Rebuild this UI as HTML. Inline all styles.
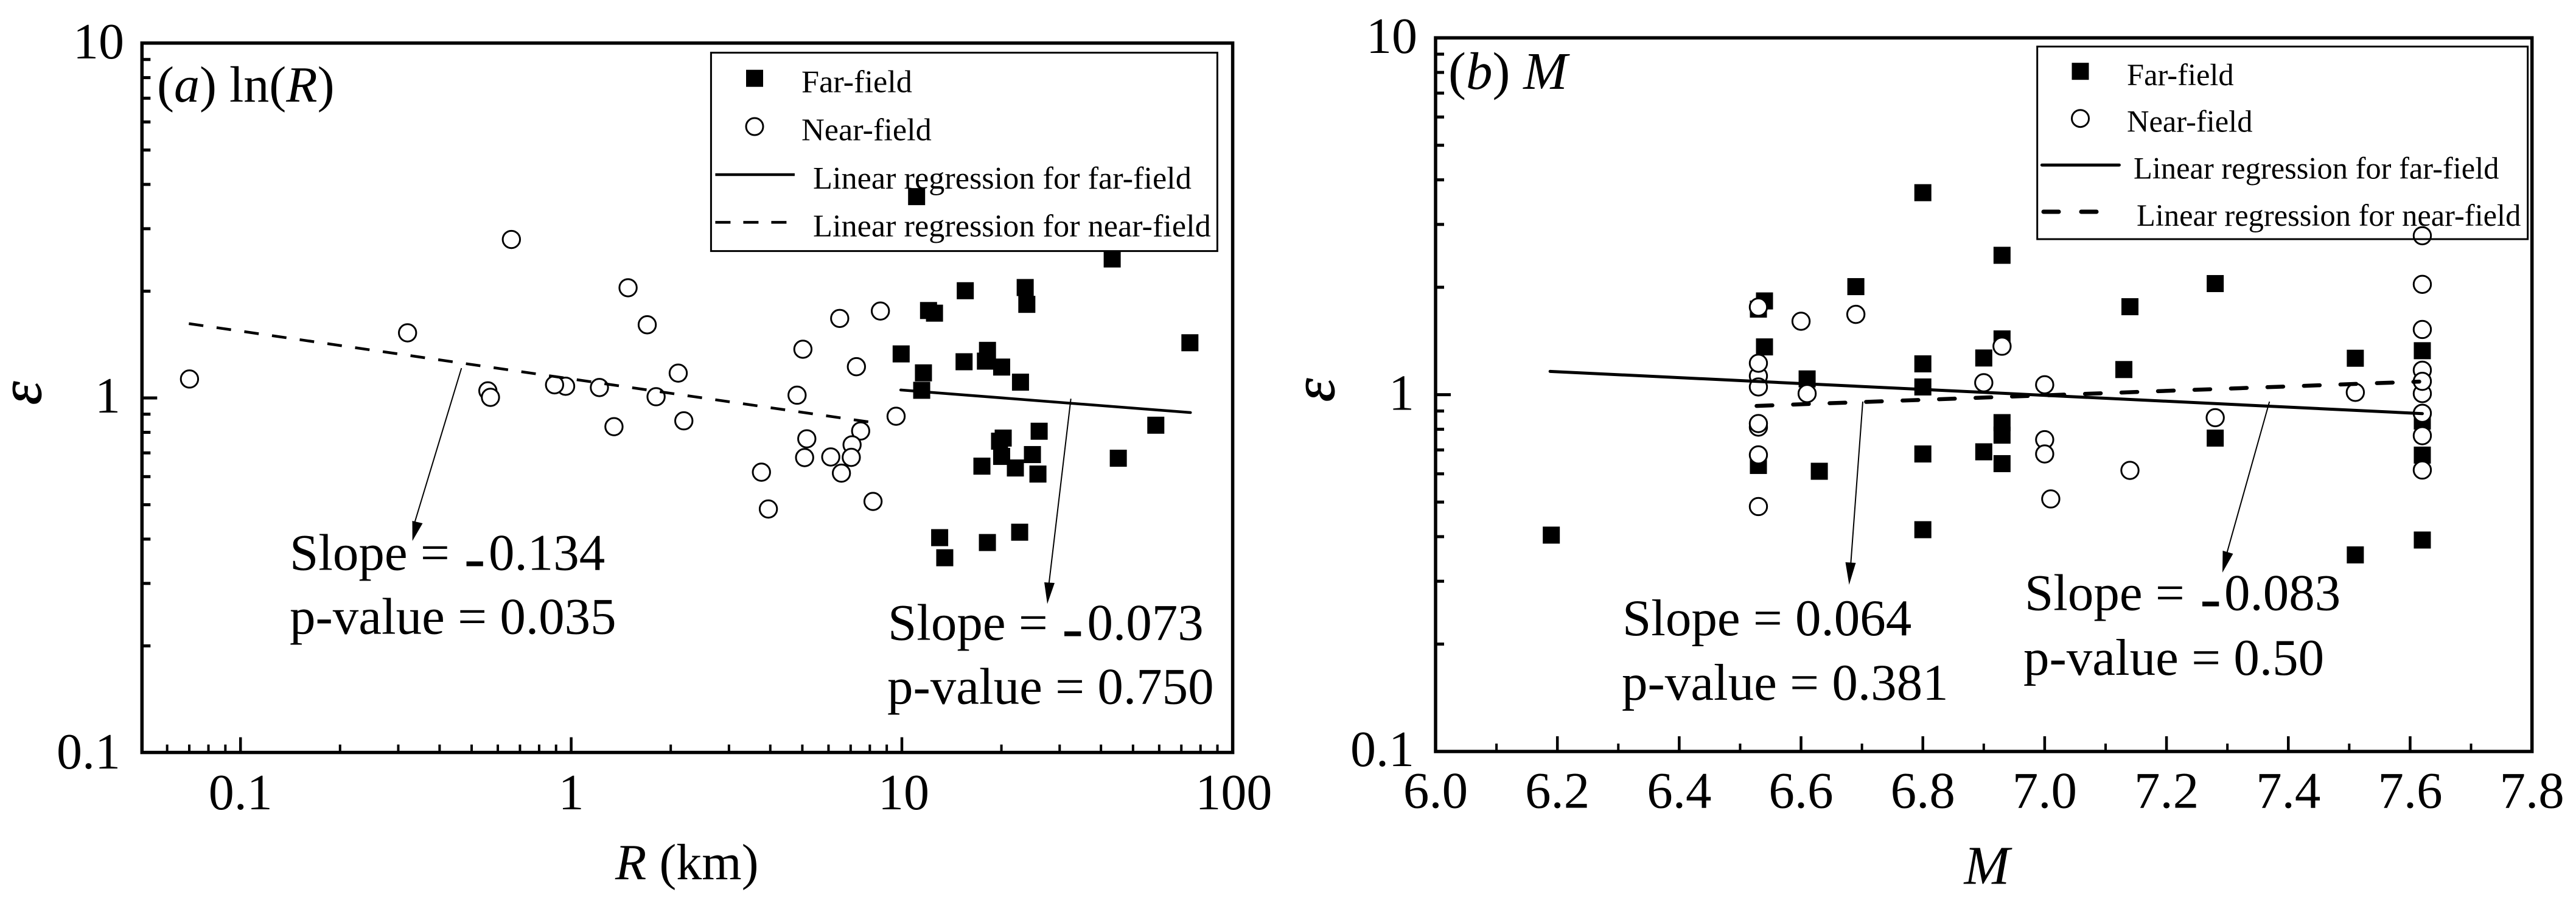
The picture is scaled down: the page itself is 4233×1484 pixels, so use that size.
<!DOCTYPE html>
<html lang="en">
<head>
<meta charset="utf-8">
<title>Epsilon versus R and M</title>
<style>
  html, body { margin: 0; padding: 0; background: #fff; }
  svg { display: block; }
  text { font-family: "Liberation Serif", "DejaVu Serif", serif; fill: #000; }
  .it { font-style: italic; }
</style>
</head>
<body>
<svg id="chart" xmlns="http://www.w3.org/2000/svg" width="4233" height="1484" viewBox="0 0 4233 1484">
  <rect x="0" y="0" width="4233" height="1484" fill="#fff"/>

  <g id="panelA"></g>
  <g id="panelB"></g>

  <!-- Panel A labels -->
  <text x="258" y="167" font-size="84">(<tspan class="it">a</tspan>) ln(<tspan class="it">R</tspan>)</text>
  <text x="1011" y="1445" font-size="84"><tspan class="it">R</tspan> (km)</text>
  <text class="it" font-size="98" stroke="#000" stroke-width="1" text-anchor="middle" transform="translate(67 646) rotate(-90)">ε</text>

  <g>
    <rect x="1168.4" y="86.6" width="832" height="326" fill="none" stroke="#000" stroke-width="3"/>
    <rect x="1226" y="114.7" width="28" height="28" fill="#000"/>
    <text x="1317" y="151.6" font-size="52.3">Far-field</text>
    <circle cx="1240" cy="208" r="14" fill="#fff" stroke="#000" stroke-width="3"/>
    <text x="1317" y="230.5" font-size="52.3">Near-field</text>
    <line x1="1175.4" y1="287" x2="1305.9" y2="287" stroke="#000" stroke-width="4.5"/>
    <text x="1336" y="310" font-size="52.3">Linear regression for far-field</text>
    <line x1="1175.4" y1="365.4" x2="1293" y2="365.4" stroke="#000" stroke-width="4.5" stroke-dasharray="25 21"/>
    <text x="1336" y="388.4" font-size="52.3">Linear regression for near-field</text>
  </g>

  <g>
    <line x1="758.3" y1="605" x2="681" y2="860" stroke="#000" stroke-width="2"/>
    <polygon points="677.7,889 677.5,856 694.5,860" fill="#000"/>
    <text x="476" y="936.5" font-size="85">Slope = <tspan dx="2.5" dy="15" font-size="105">-</tspan><tspan dx="5.5" dy="-15">0.134</tspan></text>
    <text x="476" y="1041.5" font-size="85">p-value = 0.035</text>
    <line x1="1759.7" y1="655.3" x2="1723" y2="965" stroke="#000" stroke-width="2"/>
    <polygon points="1721,992.5 1716,957 1733,958" fill="#000"/>
    <text x="1459" y="1051.5" font-size="85">Slope = <tspan dx="2" dy="15" font-size="105">-</tspan><tspan dx="6.5" dy="-15">0.073</tspan></text>
    <text x="1458" y="1156.5" font-size="85">p-value = 0.750</text>
  </g>

  <!-- Panel B labels -->
  <text x="2380" y="146" font-size="87">(<tspan class="it">b</tspan>) <tspan class="it">M</tspan></text>
  <text class="it" x="3265" y="1452.5" font-size="90" text-anchor="middle">M</text>
  <text class="it" font-size="98" stroke="#000" stroke-width="1" text-anchor="middle" transform="translate(2192 641) rotate(-90)">ε</text>

  <g>
    <rect x="3347.7" y="76.5" width="806" height="316.5" fill="none" stroke="#000" stroke-width="3"/>
    <rect x="3404.5" y="103.2" width="28" height="28" fill="#000"/>
    <text x="3495" y="140" font-size="50.5">Far-field</text>
    <circle cx="3418.5" cy="194.7" r="14" fill="#fff" stroke="#000" stroke-width="3"/>
    <text x="3495" y="216.7" font-size="50.5">Near-field</text>
    <line x1="3355.4" y1="271.2" x2="3482.4" y2="271.2" stroke="#000" stroke-width="5" stroke-linecap="round"/>
    <text x="3506" y="293.7" font-size="50.5">Linear regression for far-field</text>
    <line x1="3358" y1="348" x2="3445" y2="348" stroke="#000" stroke-width="7" stroke-linecap="round" stroke-dasharray="25 37"/>
    <text x="3511" y="371" font-size="50.5">Linear regression for near-field</text>
  </g>

  <g>
    <line x1="3061" y1="660" x2="3041" y2="930" stroke="#000" stroke-width="2"/>
    <polygon points="3038.6,961 3032.5,924 3049.5,925" fill="#000"/>
    <text x="2666" y="1044" font-size="85">Slope = 0.064</text>
    <text x="2665" y="1150" font-size="85">p-value = 0.381</text>
    <line x1="3729.3" y1="660" x2="3659" y2="910" stroke="#000" stroke-width="2"/>
    <polygon points="3652,941 3652.5,905 3669.5,910" fill="#000"/>
    <text x="3327" y="1002.5" font-size="85">Slope = <tspan dx="4" dy="15" font-size="105">-</tspan><tspan dx="5" dy="-15">0.083</tspan></text>
    <text x="3325" y="1109" font-size="85">p-value = 0.50</text>
  </g>
</svg>

<script>
/* ---------- Panel A data: epsilon vs R (km) ---------- */
const farRxA = [11.08,43.25,15.55,23.6,23.87,12.04,12.55,9.95,74.3,18.15,15.42,17.89,20.03,11.62,22.84,11.48,26.01,58.6,20.25,19.74,20.03,24.82,45.13,17.46,22.04,25.79,13.01,13.48,18.14,22.71];
const farEpsA = [3.695,2.465,2.006,2.048,1.836,1.764,1.734,1.331,1.431,1.362,1.265,1.270,1.222,1.177,1.108,1.051,0.8057,0.8378,0.7707,0.7554,0.6842,0.6924,0.6762,0.6423,0.6347,0.6102,0.4038,0.3544,0.3912,0.4183];
const nearRxA = [0.0701,0.32,0.6594,0.5598,0.57,0.962,0.8907,1.217,1.806,1.347,1.486,1.698,2.107,2.191,6.486,8.61,5.02,7.286,4.82,9.605,7.505,5.158,7.07,7.03,5.08,6.095,6.564,3.761,3.947,8.18];
const nearEpsA = [1.131,1.526,2.798,1.047,1.004,1.079,1.089,1.07,1.008,0.83,2.045,1.608,1.175,0.862,1.676,1.758,1.372,1.225,1.018,0.888,0.807,0.767,0.7377,0.68,0.679,0.6817,0.6138,0.6176,0.4863,0.5108];
const regFarRA = [9.92,74.6];
const regFarEpsA = [1.053,0.9095];
const regNearRA = [0.0698,8.58];
const regNearEpsA = [1.62,0.847];
const xTicksMajorA = [0.1,1,10];
const xTickLabelsA = ["0.1","1","10","100"];
const xTickLabelValuesA = [0.1,1,10,100];
const xTicksMinorA = [0.06,0.07,0.08,0.09,0.2,0.3,0.4,0.5,0.6,0.7,0.8,0.9,2,3,4,5,6,7,8,9,20,30,40,50,60,70,80,90];

/* ---------- Panel B data: epsilon vs M ---------- */
const farMB = [6.19,6.53,6.53,6.54,6.54,6.61,6.63,6.69,6.8,6.8,6.8,6.8,6.8,6.9,6.9,6.93,6.93,6.93,6.93,6.93,7.13,7.14,7.28,7.28,7.51,7.51,7.62,7.62,7.62,7.62];
const farEpsB = [0.404,1.737,0.6333,1.831,1.361,1.107,0.61,2.008,3.682,1.22,1.051,0.682,0.4184,1.267,0.6916,2.458,1.433,0.835,0.77,0.6408,1.176,1.764,2.048,0.7556,1.265,0.3556,1.328,0.3914,0.677,0.8433];
const nearMB = [6.53,6.53,6.53,6.53,6.53,6.53,6.53,6.53,6.6,6.61,6.69,6.9,6.93,7.0,7.0,7.0,7.01,7.14,7.28,7.51,7.62,7.62,7.62,7.62,7.62,7.62,7.62,7.62,7.62];
const nearEpsB = [1.76,1.128,1.225,1.051,0.811,0.83,0.678,0.4858,1.606,1.007,1.679,1.08,1.367,1.066,0.748,0.682,0.5102,0.6135,0.862,1.015,2.789,2.038,1.523,1.171,1.007,1.09,0.887,0.7674,0.6148];
const regFarMB = [6.188,7.62];
const regFarEpsB = [1.162,0.885];
const regNearMB = [6.527,7.615];
const regNearEpsB = [0.93,1.088];
const xTicksMajorB = [6.2,6.4,6.6,6.8,7.0,7.2,7.4,7.6];
const xTicksMinorB = [6.1,6.3,6.5,6.7,6.9,7.1,7.3,7.5,7.7];
const xTickLabelsB = ["6.0","6.2","6.4","6.6","6.8","7.0","7.2","7.4","7.6","7.8"];
const xTickLabelValuesB = [6.0,6.2,6.4,6.6,6.8,7.0,7.2,7.4,7.6,7.8];

/* ---------- Shared y axis ---------- */
const yTicksMajor = [1];
const yTicksMinor = [0.2,0.3,0.4,0.5,0.6,0.7,0.8,0.9,2,3,4,5,6,7,8,9];
const yTickLabels = ["0.1","1","10"];
const yTickLabelValues = [0.1,1,10];

const NS = 'http://www.w3.org/2000/svg';

function make(parent, tag, attrs) {
  const el = document.createElementNS(NS, tag);
  for (const k in attrs) el.setAttribute(k, attrs[k]);
  parent.appendChild(el);
  return el;
}

function drawPanel(root, cfg) {
  const frame = make(root, 'rect', {
    x: cfg.left, y: cfg.top, width: cfg.right - cfg.left, height: cfg.bottom - cfg.top,
    fill: 'none', stroke: '#000', 'stroke-width': 5.5
  });
  
  

  cfg.xMajor.forEach(function (v) {
    const t = make(root, 'line', { x1: cfg.x(v), x2: cfg.x(v), y1: cfg.bottom, y2: cfg.bottom - 25, stroke: '#000', 'stroke-width': 4.5 });
    
    
  });
  cfg.xMinor.forEach(function (v) {
    const t = make(root, 'line', { x1: cfg.x(v), x2: cfg.x(v), y1: cfg.bottom, y2: cfg.bottom - 13, stroke: '#000', 'stroke-width': 4 });
    
    
  });
  yTicksMajor.forEach(function (v) {
    const t = make(root, 'line', { x1: cfg.left, x2: cfg.left + 25, y1: cfg.y(v), y2: cfg.y(v), stroke: '#000', 'stroke-width': 5 });
    
    
  });
  yTicksMinor.forEach(function (v) {
    const t = make(root, 'line', { x1: cfg.left, x2: cfg.left + 14, y1: cfg.y(v), y2: cfg.y(v), stroke: '#000', 'stroke-width': 5 });
    
    
  });

  cfg.xLabelValues.forEach(function (v, i) {
    const t = make(root, 'text', { x: cfg.x(v) + cfg.xLabelShift[i], y: cfg.xLabelBaseline, 'font-size': cfg.xLabelSize, 'text-anchor': 'middle' });
    t.textContent = cfg.xLabels[i];
    
    
  });
  yTickLabelValues.forEach(function (v, i) {
    const t = make(root, 'text', { x: cfg.yLabelRight[i], y: cfg.y(v) + cfg.yLabelOffset[i], 'font-size': 84, 'text-anchor': 'end' });
    t.textContent = yTickLabels[i];
    
    
  });

  cfg.farX.forEach(function (v, i) {
    const s = make(root, 'rect', { x: cfg.x(v) - 14, y: cfg.y(cfg.farY[i]) - 14, width: 28, height: 28, fill: '#000' });
    
    
  });
  cfg.nearX.forEach(function (v, i) {
    const c = make(root, 'circle', { cx: cfg.x(v), cy: cfg.y(cfg.nearY[i]), r: 14.2, fill: '#fff', stroke: '#000', 'stroke-width': 3 });
    
    
  });

  const far = make(root, 'line', {
    x1: cfg.x(cfg.regFarX[0]), y1: cfg.y(cfg.regFarY[0]),
    x2: cfg.x(cfg.regFarX[1]), y2: cfg.y(cfg.regFarY[1]),
    stroke: '#000', 'stroke-width': cfg.regFarWidth, 'stroke-linecap': 'round'
  });
  
  

  const near = make(root, 'line', {
    x1: cfg.x(cfg.regNearX[0]), y1: cfg.y(cfg.regNearY[0]),
    x2: cfg.x(cfg.regNearX[1]), y2: cfg.y(cfg.regNearY[1]),
    stroke: '#000', 'stroke-width': cfg.regNearWidth, 'stroke-dasharray': cfg.regNearDash, 'stroke-linecap': cfg.regNearCap
  });
  
  
}

drawPanel(document.getElementById('panelA'), {
  left: 233.3, right: 2025.6, top: 70.8, bottom: 1236.6,
  x: function (v) { return 938.6 + 543.4 * Math.log10(v); },
  y: function (v) { return 654 - 582.9 * Math.log10(v); },
  xMajor: xTicksMajorA, xMinor: xTicksMinorA,
  xLabels: xTickLabelsA, xLabelValues: xTickLabelValuesA, xLabelShift: [0, 0, 3, 2],
  xLabelBaseline: 1330, xLabelSize: 84,
  yLabelRight: [198, 198, 204], yLabelOffset: [26, 24, 25],
  farX: farRxA, farY: farEpsA, nearX: nearRxA, nearY: nearEpsA,
  regFarX: regFarRA, regFarY: regFarEpsA, regNearX: regNearRA, regNearY: regNearEpsA,
  regFarWidth: 4.5, regNearWidth: 4.5, regNearDash: '24 22', regNearCap: 'butt'
});

drawPanel(document.getElementById('panelB'), {
  left: 2359, right: 4160.7, top: 62.2, bottom: 1235,
  x: function (v) { return 2359 + 1000.9 * (v - 6); },
  y: function (v) { return 648.6 - 586.4 * Math.log10(v); },
  xMajor: xTicksMajorB, xMinor: xTicksMinorB,
  xLabels: xTickLabelsB, xLabelValues: xTickLabelValuesB, xLabelShift: [0, 0, 0, 0, 0, 0, 0, 0, 0, 0],
  xLabelBaseline: 1327.5, xLabelSize: 85,
  yLabelRight: [2324, 2324, 2329], yLabelOffset: [24, 25, 25],
  farX: farMB, farY: farEpsB, nearX: nearMB, nearY: nearEpsB,
  regFarX: regFarMB, regFarY: regFarEpsB, regNearX: regNearMB, regNearY: regNearEpsB,
  regFarWidth: 5, regNearWidth: 6.5, regNearDash: '26 34', regNearCap: 'round'
});
</script>
</body>
</html>
